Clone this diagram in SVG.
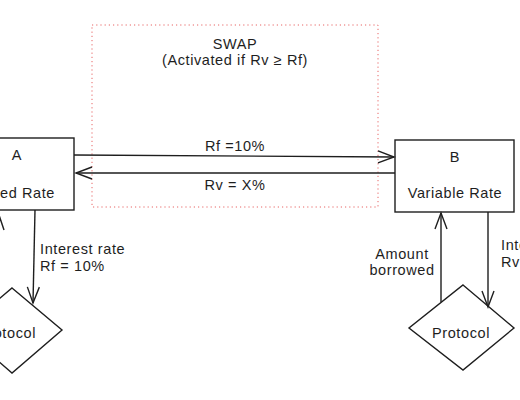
<svg xmlns="http://www.w3.org/2000/svg" width="520" height="400" viewBox="0 0 520 400">
<style>
.box{fill:#fff;stroke:#1e1e1e;stroke-width:1.4}
.ln{fill:none;stroke:#1e1e1e;stroke-width:1.4}
.t{font-family:"Liberation Sans",Arial,sans-serif;font-size:14.5px;letter-spacing:0.6px;fill:#1e1e1e}
.m{text-anchor:middle}
.e{text-anchor:end}
</style>
<defs>
<marker id="ah" viewBox="0 0 20 20" refX="18" refY="10" markerWidth="20" markerHeight="20" markerUnits="userSpaceOnUse" orient="auto">
<path d="M2,4 L18,10 L2,16" fill="none" stroke="#1e1e1e" stroke-width="1.4"/>
</marker>
</defs>
<rect width="520" height="400" fill="#fff"/>
<g id="swap">
<rect x="92" y="25" width="286" height="182" fill="none" stroke="#e03131" stroke-width="1" stroke-dasharray="1.2 3" opacity="0.75"/>
<text class="t m" x="235" y="49">SWAP</text>
<text class="t m" x="235" y="65">(Activated if Rv ≥ Rf)</text>
</g>
<g id="nodeA">
<rect class="box" x="-40" y="138" width="114" height="72"/>
<text class="t m" x="17" y="160">A</text>
<text class="t e" x="55" y="198">Fixed Rate</text>
</g>
<g id="nodeB">
<rect class="box" x="395" y="140" width="119" height="72"/>
<text class="t m" x="455" y="162">B</text>
<text class="t m" x="455" y="198">Variable Rate</text>
</g>
<g id="protocolA">
<polygon class="box" points="12,288 62,330 12,373 -38,330"/>
<text class="t e" x="36" y="338">Protocol</text>
</g>
<g id="protocolB">
<polygon class="box" points="463,285 514,328 463,370 409,328"/>
<text class="t m" x="461" y="338">Protocol</text>
</g>
<g id="connectors">
<line class="ln" x1="74" y1="155" x2="394" y2="157" marker-end="url(#ah)"/>
<line class="ln" x1="395" y1="173" x2="76" y2="173" marker-end="url(#ah)"/>
<line class="ln" x1="35" y1="210" x2="33" y2="303" marker-end="url(#ah)"/>
<path class="ln" d="M-2,212 L4,230"/>
<line class="ln" x1="441" y1="302" x2="441" y2="213" marker-end="url(#ah)"/>
<line class="ln" x1="488" y1="212" x2="488" y2="307" marker-end="url(#ah)"/>
</g>
<g id="labels">
<text class="t m" x="235" y="151">Rf =10%</text>
<text class="t m" x="235" y="190">Rv = X%</text>
<text class="t" x="40" y="254">Interest rate</text>
<text class="t" x="40" y="271">Rf = 10%</text>
<text class="t m" x="402" y="259">Amount</text>
<text class="t m" x="402" y="275">borrowed</text>
<text class="t" x="501" y="250">Interest rate</text>
<text class="t" x="501" y="267">Rv = X%</text>
</g>
</svg>
